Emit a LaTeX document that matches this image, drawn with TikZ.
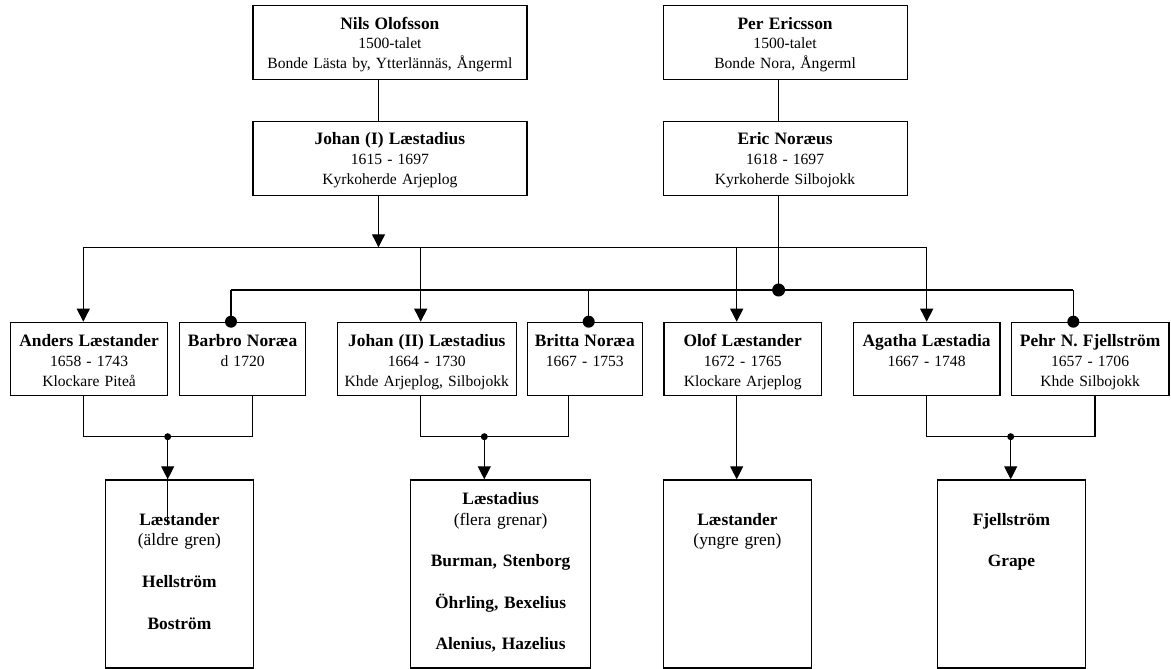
\documentclass[tikz,border=0pt]{standalone}
\usepackage{fontspec}
\setmainfont{Liberation Serif}
\usetikzlibrary{arrows.meta}
\newcommand{\nm}[1]{{\fontsize{17.4}{19.7}\selectfont\bfseries #1}}
\newcommand{\bnm}[1]{{\bfseries #1}}
\tikzset{
  pbox/.style={draw=black, line width=1.2pt, inner sep=0pt, align=center, anchor=north west,
    font=\fontsize{15.6}{19.7}\selectfont},
  midbox/.style={pbox, text height=24.3pt, text depth=49pt},
  topbox/.style={pbox, text height=23.5pt, text depth=50.5pt},
  lowbox/.style={pbox, font=\fontsize{17.4}{20.8}\selectfont, text depth=142.8pt},
  conn/.style={line width=1.1pt},
  arr/.style={conn, -{Triangle[length=13pt,width=13pt]}},
}
\begin{document}
\begin{tikzpicture}[x=1pt,y=-1pt]
\useasboundingbox (0,0) rectangle (1171,669);
% x positions of connectors
\coordinate (xJ) at (378.5,0);
\coordinate (xE) at (778.6,0);
\coordinate (xA) at (83.3,0);
\coordinate (xB) at (231,0);
\coordinate (xBb) at (252.7,0);
\coordinate (xJ2) at (420.7,0);
\coordinate (xBr) at (588.7,0);
\coordinate (xBrb) at (568.3,0);
\coordinate (xO) at (736.7,0);
\coordinate (xAg) at (926.7,0);
\coordinate (xP) at (1073.3,0);
\coordinate (xPb) at (1095,0);
\coordinate (lineL) at (0,247.3);
\coordinate (lineN) at (0,290);
\coordinate (brk) at (0,436.7);
\coordinate (d1) at (167.7,436.7);
\coordinate (d2) at (484.3,436.7);
\coordinate (d3) at (1010.7,436.7);
\coordinate (eD) at (778.6,290);
% top rows
\node[topbox, text width=274pt] (nils) at (252.3,5) {\nm{Nils Olofsson}\\1500-talet\\Bonde Lästa by, Ytterlännäs, Ångerml};
\node[topbox, text width=244pt] (per) at (662.5,5) {\nm{Per Ericsson}\\1500-talet\\Bonde Nora, Ångerml};
\node[topbox, text width=274pt] (johanI) at (252.3,120.7) {\nm{Johan (I) Læstadius}\\1615 - 1697\\Kyrkoherde Arjeplog};
\node[topbox, text width=244pt] (eric) at (662.5,120.7) {\nm{Eric Noræus}\\1618 - 1697\\Kyrkoherde Silbojokk};
% middle row
\node[midbox, text width=157pt] (anders) at (10,321.7) {\nm{Anders Læstander}\\1658 - 1743\\Klockare Piteå};
\node[midbox, text width=126pt] (barbro) at (179,321.7) {\nm{Barbro Noræa}\\d 1720};
\node[midbox, text width=179pt] (johanII) at (336.7,321.7) {\nm{Johan (II) Læstadius}\\1664 - 1730\\Khde Arjeplog, Silbojokk};
\node[midbox, text width=115pt] (britta) at (526.7,321.7) {\nm{Britta Noræa}\\1667 - 1753};
\node[midbox, text width=157.7pt] (olof) at (663.3,321.7) {\nm{Olof Læstander}\\1672 - 1765\\Klockare Arjeplog};
\node[midbox, text width=146.6pt] (agatha) at (852.7,321.7) {\nm{Agatha Læstadia}\\1667 - 1748};
\node[midbox, text width=157.6pt] (pehr) at (1010.7,321.7) {\nm{Pehr N. Fjellström}\\1657 - 1706\\Khde Silbojokk};
% bottom row
\node[lowbox, text width=147.7pt, text height=45.2pt, text depth=142.8pt] (fam1) at (105,479.3)
  {\bnm{Læstander}\\(äldre gren)\\[20.8pt]\bnm{Hellström}\\[20.8pt]\bnm{Boström}};
\node[lowbox, text width=180pt, text height=24.4pt, text depth=163.6pt] (fam2) at (410,479.3)
  {\bnm{Læstadius}\\(flera grenar)\\[20.8pt]\bnm{Burman, Stenborg}\\[20.8pt]\bnm{Öhrling, Bexelius}\\[20.8pt]\bnm{Alenius, Hazelius}};
\node[lowbox, text width=148.3pt, text height=45.2pt, text depth=142.8pt] (fam3) at (662.7,479.3)
  {\bnm{Læstander}\\(yngre gren)};
\node[lowbox, text width=148.3pt, text height=45.2pt, text depth=142.8pt] (fam4) at (936.7,479.3)
  {\bnm{Fjellström}\\[20.8pt]\bnm{Grape}};
% top connectors
\draw[conn] (xJ |- nils.south) -- (xJ |- johanI.north);
\draw[conn] (xE |- per.south) -- (xE |- eric.north);
\draw[arr] (xJ |- johanI.south) -- (xJ |- lineL);
\draw[conn] (xE |- eric.south) -- (eD);
\fill (eD) circle (6.5pt);
% Laestadius line
\draw[conn] (xA |- lineL) -- (xAg |- lineL);
\draw[arr] (xA |- lineL) -- (xA |- anders.north);
\draw[arr] (xJ2 |- lineL) -- (xJ2 |- johanII.north);
\draw[arr] (xO |- lineL) -- (xO |- olof.north);
\draw[arr] (xAg |- lineL) -- (xAg |- agatha.north);
% Noraeus line
\draw[conn] (xB |- lineN) -- (xP |- lineN);
\draw[conn] (xB |- lineN) -- (xB |- barbro.north);
\draw[conn] (xBr |- lineN) -- (xBr |- britta.north);
\draw[conn] (xP |- lineN) -- (xP |- pehr.north);
\fill (xB |- barbro.north) circle (6pt);
\fill (xBr |- britta.north) circle (6pt);
\fill (xP |- pehr.north) circle (6pt);
% marriages
\draw[conn] (xA |- anders.south) -- (xA |- brk) -- (xBb |- brk) -- (xBb |- barbro.south);
\fill (d1) circle (3.5pt);
\draw[arr] (d1) -- (d1 |- fam1.north);
\draw[conn] (d1) -- ++(0,88.5);
\draw[conn] (xJ2 |- johanII.south) -- (xJ2 |- brk) -- (xBrb |- brk) -- (xBrb |- britta.south);
\fill (d2) circle (3.5pt);
\draw[arr] (d2) -- (d2 |- fam2.north);
\draw[arr] (xO |- olof.south) -- (xO |- fam3.north);
\draw[conn] (xAg |- agatha.south) -- (xAg |- brk) -- (xPb |- brk) -- (xPb |- pehr.south);
\fill (d3) circle (3.5pt);
\draw[arr] (d3) -- (d3 |- fam4.north);
\end{tikzpicture}
\end{document}
